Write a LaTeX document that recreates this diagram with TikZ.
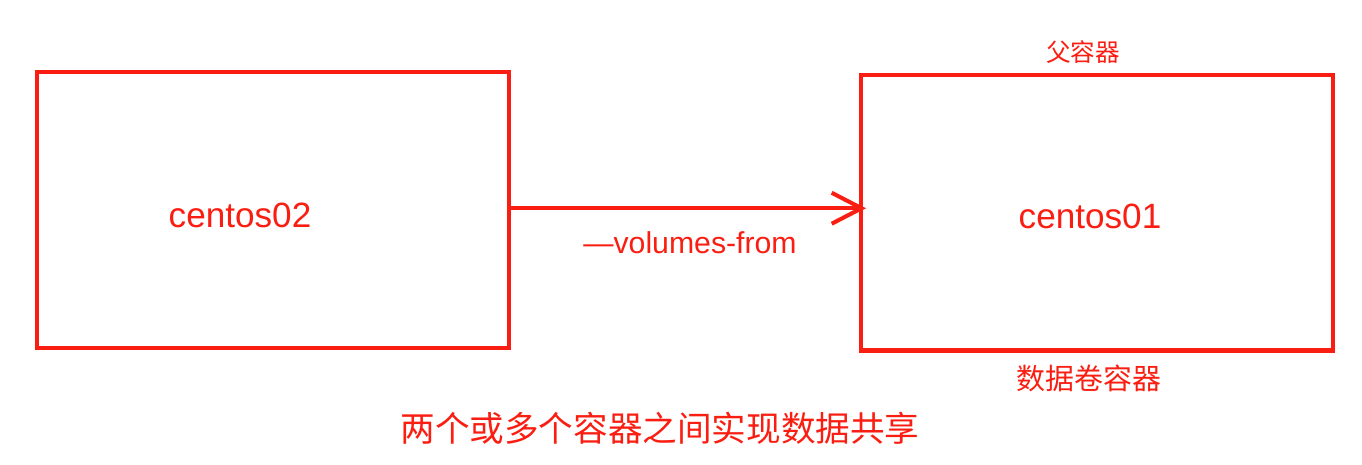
\documentclass[tikz,border=0pt]{standalone}
\usepackage{fontspec}
\setmainfont{Liberation Sans}
\newfontfamily\cjk{Noto Sans CJK SC}
\usepackage{tikz}
\usetikzlibrary{positioning, arrows.meta, calc}
\definecolor{boxred}{RGB}{250, 30, 18}

\begin{document}
\begin{tikzpicture}[x=0.02cm, y=-0.02cm, line width=2.3pt, boxred,
	container/.style={draw, minimum width=9.44cm, minimum height=5.52cm, inner sep=0pt},
	tag/.style={text=boxred, inner sep=1pt}]
	\useasboundingbox (0,0) rectangle (1362,464);
	%% the two containers
	\node [container] (box02) at (273,210) {};
	\node [container] (box01) at (1097,212.5) {};
	\node [tag, font=\fontsize{20}{24}\selectfont] (c02) at (240,215) {centos02};
	\node [tag, font=\fontsize{20}{24}\selectfont] (c01) at (1090,216) {centos01};
	%% labels round the parent container
	\node [tag, font=\cjk\fontsize{14}{17}\selectfont] (parent) at (1083,52) {父容器};
	\node [tag, font=\cjk\fontsize{16.5}{20}\selectfont] (volume) at (1089,378) {数据卷容器};
	%% link
	\draw [-{Straight Barb[length=0.6cm, width=0.62cm]}, shorten >=-4pt] ([yshift=1pt]box02.east) -- ([yshift=1pt]box02.east -| box01.west);
	\node [tag, font=\fontsize{17.2}{20}\selectfont] (flag) at (690,243) {—volumes-from};
	\node [tag, font=\cjk\fontsize{19.7}{24}\selectfont] (caption) at (660,428) {两个或多个容器之间实现数据共享};
\end{tikzpicture}
\end{document}
